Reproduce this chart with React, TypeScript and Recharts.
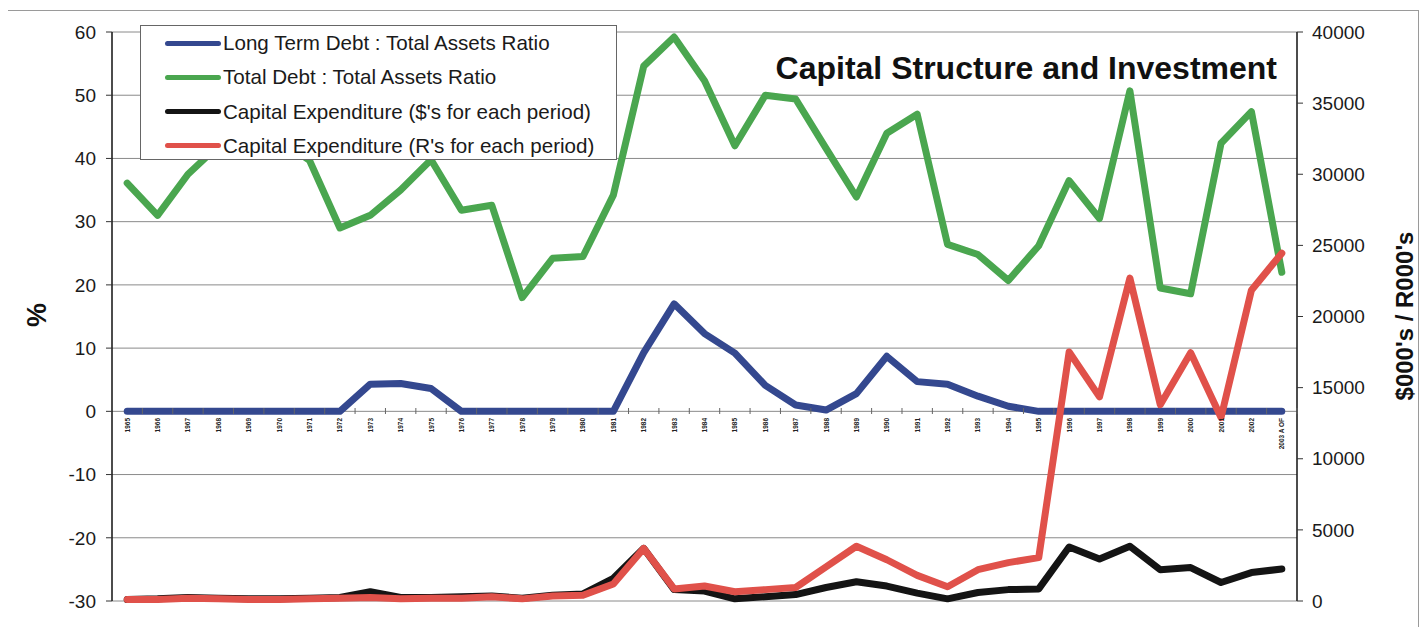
import React from 'react';
import {
  ComposedChart,
  Line,
  XAxis,
  YAxis,
  CartesianGrid,
  Legend,
} from 'recharts';

const years = [
  '1965', '1966', '1967', '1968', '1969', '1970', '1971', '1972', '1973', '1974',
  '1975', '1976', '1977', '1978', '1979', '1980', '1981', '1982', '1983', '1984',
  '1985', '1986', '1987', '1988', '1989', '1990', '1991', '1992', '1993', '1994',
  '1995', '1996', '1997', '1998', '1999', '2000', '2001', '2002', '2003 A OF',
];

// Long Term Debt : Total Assets Ratio (%)
const longTermDebt = [
  0, 0, 0, 0, 0, 0, 0, 0, 4.3, 4.4,
  3.6, 0, 0, 0, 0, 0, 0, 9.3, 17, 12.3,
  9.2, 4.1, 1, 0.2, 2.8, 8.7, 4.7, 4.3, 2.4, 0.8,
  0, 0, 0, 0, 0, 0, 0, 0, 0,
];

// Total Debt : Total Assets Ratio (%)
const totalDebt = [
  36.1, 31, 37.5, 42, 45, 43, 39.7, 29, 31, 35,
  39.8, 31.8, 32.6, 18, 24.2, 24.5, 34.2, 54.6, 59.2, 52.3,
  42, 50, 49.4, 41.6, 33.9, 44, 47, 26.4, 24.8, 20.7,
  26.2, 36.5, 30.5, 50.7, 19.5, 18.6, 42.4, 47.4, 22,
];

// Capital Expenditure ($'s for each period) - $000's
const capexUSD = [
  100, 150, 250, 200, 150, 150, 200, 250, 650, 250,
  250, 300, 350, 200, 400, 500, 1600, 3700, 800, 700,
  150, 300, 450, 950, 1350, 1050, 550, 150, 600, 800,
  850, 3800, 2950, 3850, 2200, 2350, 1300, 2000, 2250,
];

// Capital Expenditure (R's for each period) - R000's
const capexZAR = [
  100, 100, 200, 150, 100, 100, 150, 200, 250, 150,
  200, 200, 300, 150, 350, 400, 1200, 3700, 850, 1050,
  650, 800, 950, 2400, 3850, 2900, 1800, 1000, 2200, 2700,
  3050, 17500, 14350, 22700, 13800, 17450, 12900, 21850, 24450,
];

const leftTicks = [-30, -20, -10, 0, 10, 20, 30, 40, 50, 60];
const rightTicks = [0, 5000, 10000, 15000, 20000, 25000, 30000, 35000, 40000];

const seriesInfo = [
  { key: 'ltd', name: 'Long Term Debt : Total Assets Ratio', color: '#34488f', axis: 'left' },
  { key: 'td', name: 'Total Debt : Total Assets Ratio', color: '#4aa64f', axis: 'left' },
  { key: 'usd', name: "Capital Expenditure ($'s for each period)", color: '#141414', axis: 'right' },
  { key: 'zar', name: "Capital Expenditure (R's for each period)", color: '#e0514a', axis: 'right' },
];

const data = years.map((year, i) => ({
  year,
  ltd: longTermDebt[i],
  td: totalDebt[i],
  usd: capexUSD[i],
  zar: capexZAR[i],
}));

const FONT = '"Liberation Sans", Arial, Helvetica, sans-serif';
const W = 1411;
const H = 619;
const ZERO_SHIFT = -183; // from plot bottom to just under the 0% line
const BAND_HALF = 15.19;

const XTick = (props: any) => {
  const { x, y, payload } = props;
  const ty = y + ZERO_SHIFT;
  return (
    <g>
      <line x1={x + BAND_HALF} x2={x + BAND_HALF} y1={ty - 10} y2={ty - 4} stroke="#666" strokeWidth={1} />
      <text
        transform={`translate(${x},${ty}) rotate(-90)`}
        textAnchor="end"
        dominantBaseline="central"
        fontSize={6.5}
        fontWeight="bold"
        fontFamily={FONT}
        fill="#222"
      >
        {payload.value}
      </text>
    </g>
  );
};

const LegendBox = () => (
  <div
    style={{
      width: 477,
      height: 135,
      border: '1px solid #666',
      background: '#fff',
      boxSizing: 'border-box',
      position: 'relative',
      fontFamily: FONT,
    }}
  >
    {seriesInfo.map((s, i) => (
      <div
        key={s.key}
        style={{
          position: 'absolute',
          left: 24,
          top: 3 + i * 34.3,
          height: 28,
          display: 'flex',
          alignItems: 'center',
          whiteSpace: 'nowrap',
        }}
      >
        <div style={{ width: 56, height: 5, borderRadius: 3, background: s.color, marginRight: 2 }} />
        <span style={{ fontSize: 20.6, color: '#1a1a1a' }}>{s.name}</span>
      </div>
    ))}
  </div>
);

export default function App() {
  return (
    <div style={{ position: 'relative', width: W, height: H, fontFamily: FONT, background: '#fff' }}>
      <div
        style={{
          position: 'absolute',
          left: -2,
          top: 2,
          width: 1413,
          height: 620,
          border: '1px solid #9a9a9a',
          boxSizing: 'border-box',
        }}
      />
      <ComposedChart
        width={W}
        height={H}
        data={data}
        margin={{ top: 24, right: 0, bottom: 0, left: 0 }}
      >
        <CartesianGrid yAxisId="left" vertical={false} stroke="#8a8a8a" strokeWidth={1} />
        <XAxis
          dataKey="year"
          scale="band"
          interval={0}
          height={26}
          axisLine={false}
          tickLine={false}
          tickSize={0}
          tickMargin={0}
          tick={<XTick />}
        />
        <YAxis
          yAxisId="left"
          orientation="left"
          width={104}
          domain={[-30, 60]}
          ticks={leftTicks}
          interval={0}
          axisLine={{ stroke: '#111', strokeWidth: 1.5 }}
          tickLine={{ stroke: '#333' }}
          tickSize={6}
          tickMargin={10}
          tick={{ fontSize: 19, fill: '#1a1a1a', fontFamily: FONT }}
        />
        <YAxis
          yAxisId="right"
          orientation="right"
          width={122}
          domain={[0, 40000]}
          ticks={rightTicks}
          interval={0}
          axisLine={{ stroke: '#111', strokeWidth: 1.5 }}
          tickLine={{ stroke: '#333' }}
          tickSize={6}
          tickMargin={9}
          tick={{ fontSize: 19, fill: '#1a1a1a', fontFamily: FONT, textAnchor: 'start' }}
        />
        <Legend
          layout="horizontal"
          verticalAlign="middle"
          align="center"
          content={<LegendBox />}
          wrapperStyle={{ position: 'absolute', left: 132, top: 17, width: 477, height: 135 }}
        />
        {seriesInfo.map((s) => (
          <Line
            key={s.key}
            yAxisId={s.axis}
            dataKey={s.key}
            name={s.name}
            type="linear"
            stroke={s.color}
            strokeWidth={7}
            strokeLinejoin="round"
            strokeLinecap="round"
            dot={false}
            activeDot={false}
            isAnimationActive={false}
          />
        ))}
      </ComposedChart>
      <div
        style={{
          position: 'absolute',
          right: W - 1269,
          top: 42,
          fontSize: 32,
          fontWeight: 'bold',
          color: '#111',
          whiteSpace: 'nowrap',
          lineHeight: '36px',
          background: '#fff',
          paddingLeft: 6,
        }}
      >
        Capital Structure and Investment
      </div>
      <div
        style={{
          position: 'absolute',
          left: 29,
          top: 307,
          transform: 'translate(-50%, -50%) rotate(-90deg)',
          fontSize: 27,
          fontWeight: 'bold',
          color: '#111',
          whiteSpace: 'nowrap',
        }}
      >
        %
      </div>
      <div
        style={{
          position: 'absolute',
          left: 1397,
          top: 308,
          transform: 'translate(-50%, -50%) rotate(-90deg)',
          fontSize: 24,
          fontWeight: 'bold',
          color: '#111',
          whiteSpace: 'nowrap',
        }}
      >
        $000's / R000's
      </div>
    </div>
  );
}
